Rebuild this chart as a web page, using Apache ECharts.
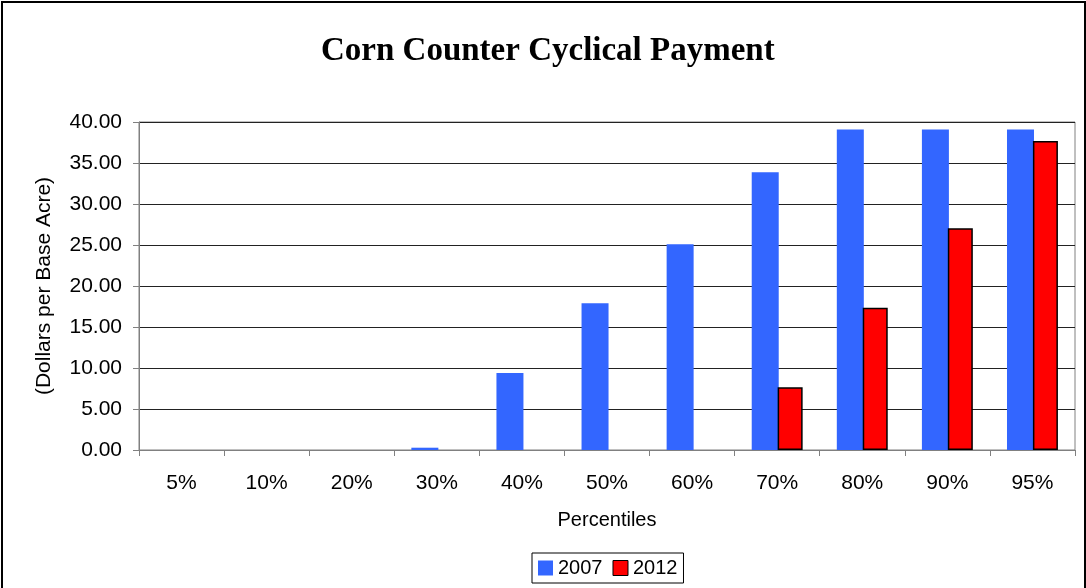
<!DOCTYPE html>
<html>
<head>
<meta charset="utf-8">
<script src="https://cdn.jsdelivr.net/npm/echarts@6/dist/echarts.min.js"></script>
<style>
html,body{margin:0;padding:0;background:#fff;}
#c{width:1086px;height:588px;}
</style>
</head>
<body>
<div id="c"></div>
<script>
const categories = ['5%','10%','20%','30%','40%','50%','60%','70%','80%','90%','95%'];
const values2007 = [0, 0, 0, 0.28, 9.4, 17.9, 25.1, 33.86, 39.1, 39.1, 39.1];
const values2012 = [0, 0, 0, 0, 0, 0, 0, 7.64, 17.36, 27.03, 37.68];
const yTicks = { min: 0, max: 40, interval: 5 };

const chart = echarts.init(document.getElementById('c'));
chart.setOption({
  animation: false,
  backgroundColor: '#fff',
  title: {
    text: 'Corn Counter Cyclical Payment',
    left: 316, top: 30,
    textStyle: { fontFamily: 'Liberation Serif', fontWeight: 'bold', fontSize: 33, color: '#000' }
  },
  graphic: [{
    type: 'rect', shape: { x: 2, y: 2, width: 1083, height: 590 },
    style: { fill: 'none', stroke: '#000', lineWidth: 2 }, silent: true
  }],
  legend: {
    left: 532, top: 553,
    icon: 'rect',
    itemWidth: 15, itemHeight: 15, itemGap: 10,
    borderColor: '#000', borderWidth: 1, padding: [5, 6, 5, 6],
    textStyle: { fontFamily: 'Liberation Sans', fontSize: 20, color: '#000' },
    data: [
      { name: '2007', itemStyle: { color: '#3366FF', borderWidth: 0 } },
      { name: '2012', itemStyle: { color: '#FF0000', borderColor: '#000', borderWidth: 1 } }
    ]
  },
  grid: { left: 139, right: 11, top: 122, bottom: 138, show: true, borderColor: '#808080', borderWidth: 1 },
  xAxis: {
    type: 'category', data: categories,
    axisLine: { lineStyle: { color: '#808080', width: 1 } },
    axisTick: { show: true, length: 6, lineStyle: { color: '#808080' } },
    axisLabel: { fontFamily: 'Liberation Sans', fontSize: 21, color: '#000', margin: 23 },
    name: 'Percentiles', nameLocation: 'middle', nameGap: 60,
    nameTextStyle: { fontFamily: 'Liberation Sans', fontSize: 20, color: '#000' }
  },
  yAxis: {
    type: 'value', min: yTicks.min, max: yTicks.max, interval: yTicks.interval,
    axisLine: { show: true, lineStyle: { color: '#808080', width: 1 } },
    axisTick: { show: true, length: 6, lineStyle: { color: '#808080' } },
    axisLabel: { fontFamily: 'Liberation Sans', fontSize: 21, color: '#000', margin: 17,
      formatter: v => v.toFixed(2) },
    splitLine: { lineStyle: { color: '#222', width: 1 } },
    name: '(Dollars per Base Acre)', nameLocation: 'middle', nameGap: 84,
    nameTextStyle: { fontFamily: 'Liberation Sans', fontSize: 21, color: '#000' }
  },
  series: [
    { name: '2007', type: 'bar', data: values2007, barWidth: 27, barGap: '-4%',
      itemStyle: { color: '#3366FF' } },
    { name: '2012', type: 'bar',
      data: values2012.map(v => v === 0 ? { value: v, itemStyle: { borderWidth: 0 } } : v),
      barWidth: 25,
      itemStyle: { color: '#FF0000', borderColor: '#000', borderWidth: 1.5 } }
  ]
});
</script>
</body>
</html>
